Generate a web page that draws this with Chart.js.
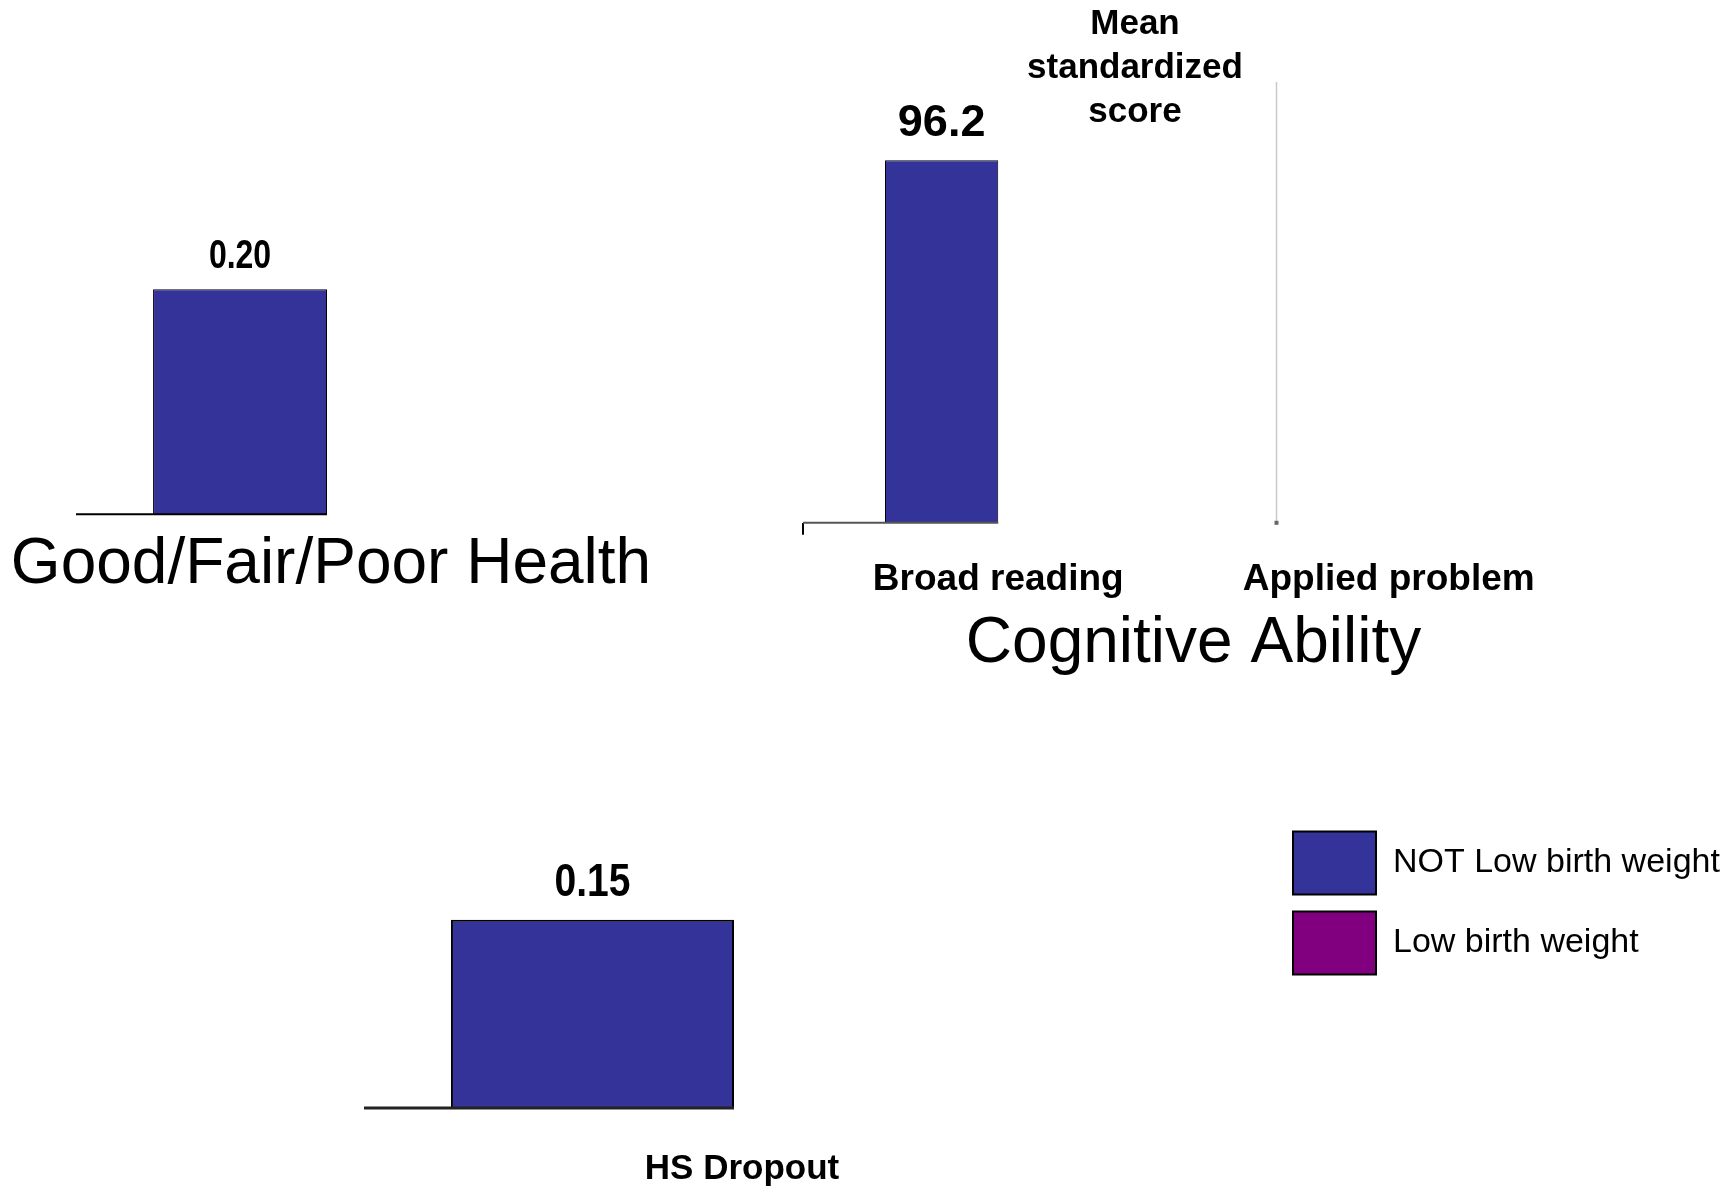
<!DOCTYPE html>
<html>
<head>
<meta charset="utf-8">
<script src="https://cdn.jsdelivr.net/npm/chart.js@4"></script>
<style>
  html, body { margin: 0; padding: 0; background: #fff; overflow: hidden; }
  #page { position: relative; width: 1734px; height: 1192px; overflow: hidden; }
  canvas { position: absolute; }
</style>
</head>
<body>
<div id="page">
  <canvas id="health" width="662" height="604" style="left:0;top:0"></canvas>
  <canvas id="cognitive" width="898" height="683" style="left:686px;top:0"></canvas>
  <canvas id="dropout" width="820" height="550" style="left:329px;top:680px"></canvas>
  <canvas id="legend" width="700" height="206" style="left:1276px;top:800px"></canvas>
</div>
<script>
// series
const seriesNames = ['NOT Low birth weight', 'Low birth weight'];
const seriesColors = ['#333399', '#800080'];

// health panel
const healthLabels = ['Good/Fair/Poor Health'];
const healthNotLow = [0.20];
const healthLow = [null];

// cognitive panel
const cognitiveLabels = ['Broad reading', 'Applied problem'];
const cognitiveNotLow = [96.2, null];
const cognitiveLow = [null, null];
const cognitiveAxisTitle = 'Cognitive Ability';
const cognitiveYTitle = ['Mean', 'standardized', 'score'];

// dropout panel
const dropoutLabels = ['HS Dropout'];
const dropoutNotLow = [0.15];
const dropoutLow = [null];

const SANS = "'Liberation Sans', Arial, sans-serif";

Chart.defaults.font.family = SANS;
Chart.defaults.color = '#000';
Chart.defaults.animation = false;

function makeDatasets(notLow, low, catPct, border) {
  return [notLow, low].map((data, i) => ({
    label: seriesNames[i],
    data: data,
    backgroundColor: seriesColors[i],
    borderColor: '#000',
    borderWidth: border,
    borderSkipped: 'start',
    categoryPercentage: catPct,
    barPercentage: 1
  }));
}

// an empty axis used only to reserve room at one side of the plot
function spacer(position, width) {
  return {
    type: 'linear', position: position, display: true,
    grid: { display: false }, border: { display: false }, ticks: { display: false },
    afterFit: s => { s.width = width; }
  };
}

// value above each bar of the first series (squeeze < 1 gives the condensed look)
const valueLabels = {
  id: 'valueLabels',
  afterDatasetsDraw(chart, args, opts) {
    const ctx = chart.ctx;
    const meta = chart.getDatasetMeta(0);
    meta.data.forEach((bar, i) => {
      const v = chart.data.datasets[0].data[i];
      if (v == null) return;
      ctx.save();
      ctx.font = opts.font;
      ctx.fillStyle = '#000';
      ctx.textAlign = 'center';
      ctx.textBaseline = 'alphabetic';
      ctx.translate(bar.x, bar.y - opts.gap);
      ctx.scale(opts.squeeze || 1, 1);
      ctx.fillText(v.toFixed(opts.decimals), 0, 0);
      ctx.restore();
    });
  }
};

// zero line, only as far as the first bar reaches
const baseLine = {
  id: 'baseLine',
  afterDatasetsDraw(chart, args, opts) {
    const ctx = chart.ctx;
    const bar = chart.getDatasetMeta(0).data[0];
    const y = chart.scales.y.getPixelForValue(0);
    ctx.save();
    ctx.strokeStyle = opts.color;
    ctx.lineWidth = opts.width;
    ctx.beginPath();
    ctx.moveTo(chart.chartArea.left, y);
    ctx.lineTo(bar.x + bar.width / 2, y);
    ctx.stroke();
    ctx.restore();
  }
};

// faint edge left where the second category's bar would sit
const maskEdge = {
  id: 'maskEdge',
  afterDatasetsDraw(chart, args, opts) {
    const ctx = chart.ctx;
    const xs = chart.scales.x, ys = chart.scales.y;
    const bar = chart.getDatasetMeta(0).data[0];
    const px = Math.round(xs.getPixelForValue(1) + (bar.x - xs.getPixelForValue(0)) - bar.width / 2) + 0.5;
    const bottom = ys.getPixelForValue(0);
    ctx.save();
    ctx.strokeStyle = '#c8c8c8';
    ctx.lineWidth = 1.5;
    ctx.beginPath();
    ctx.moveTo(px, ys.getPixelForValue(opts.top));
    ctx.lineTo(px, bottom);
    ctx.stroke();
    ctx.fillStyle = '#666';
    ctx.fillRect(px - 2, bottom - 2, 4, 4);
    ctx.restore();
  }
};

new Chart('health', {
  type: 'bar',
  data: { labels: healthLabels, datasets: makeDatasets(healthNotLow, healthLow, 0.693, 1) },
  options: {
    responsive: false,
    layout: { padding: { top: 233 } },
    plugins: {
      legend: { display: false },
      tooltip: { enabled: false },
      title: {
        display: true, position: 'bottom', text: healthLabels[0], color: '#000',
        font: { size: 64, weight: 'normal' }, padding: { top: 13, bottom: 0 }
      },
      valueLabels: { font: 'bold 40px ' + SANS, decimals: 2, gap: 21, squeeze: 0.8 },
      baseLine: { color: '#000', width: 2 }
    },
    scales: {
      x: {
        grid: { display: false, drawTicks: false },
        border: { display: false },
        ticks: { display: false }
      },
      y: Object.assign(spacer('left', 76), { min: 0, max: 0.25 }),
      yRight: spacer('right', 84)
    }
  },
  plugins: [valueLabels, baseLine]
});

new Chart('cognitive', {
  type: 'bar',
  data: { labels: cognitiveLabels, datasets: makeDatasets(cognitiveNotLow, cognitiveLow, 0.58, 1) },
  options: {
    responsive: false,
    plugins: {
      legend: { display: false },
      tooltip: { enabled: false },
      title: {
        display: true,
        text: cognitiveYTitle,
        color: '#000',
        font: { size: 35, weight: 'bold', lineHeight: '44px' },
        padding: { top: 2, bottom: 12 }
      },
      valueLabels: { font: 'bold 45px ' + SANS, decimals: 1, gap: 24 },
      baseLine: { color: '#555', width: 2 },
      maskEdge: { top: 117 }
    },
    scales: {
      x: {
        grid: {
          display: true, drawOnChartArea: false, drawTicks: true, tickLength: 12, lineWidth: 2,
          color: c => c.index === 0 ? '#000' : 'rgba(0,0,0,0)'
        },
        border: { display: false },
        ticks: { font: { size: 37, weight: 'bold' }, padding: 23, maxRotation: 0, autoSkip: false },
        title: { display: true, text: cognitiveAxisTitle, font: { size: 64 }, padding: { top: -19, bottom: 0 } }
      },
      y: Object.assign(spacer('left', 117), { min: 0, max: 100 })
    }
  },
  plugins: [valueLabels, baseLine, maskEdge]
});

new Chart('dropout', {
  type: 'bar',
  data: { labels: dropoutLabels, datasets: makeDatasets(dropoutNotLow, dropoutLow, 0.765, 2) },
  options: {
    responsive: false,
    layout: { padding: { left: 35, right: 45, top: 177 } },
    plugins: {
      legend: { display: false },
      tooltip: { enabled: false },
      valueLabels: { font: 'bold 46px ' + SANS, decimals: 2, gap: 24, squeeze: 0.85 },
      baseLine: { color: '#222', width: 3 }
    },
    scales: {
      x: {
        grid: { display: false, drawTicks: false },
        border: { display: false },
        ticks: { font: { size: 35, weight: 'bold' }, padding: 40, maxRotation: 0, labelOffset: 8 }
      },
      y: { display: false, min: 0, max: 0.2 }
    }
  },
  plugins: [valueLabels, baseLine]
});

// legend for both series
new Chart('legend', {
  type: 'bar',
  data: { labels: [''], datasets: makeDatasets([], [], 0.8, 2) },
  options: {
    responsive: false,
    plugins: {
      tooltip: { enabled: false },
      legend: {
        position: 'left',
        align: 'center',
        maxWidth: 470,
        labels: { boxWidth: 83, boxHeight: 63, padding: 17, font: { size: 34 }, color: '#000' }
      }
    },
    scales: { x: { display: false }, y: { display: false } }
  }
});
</script>
</body>
</html>
